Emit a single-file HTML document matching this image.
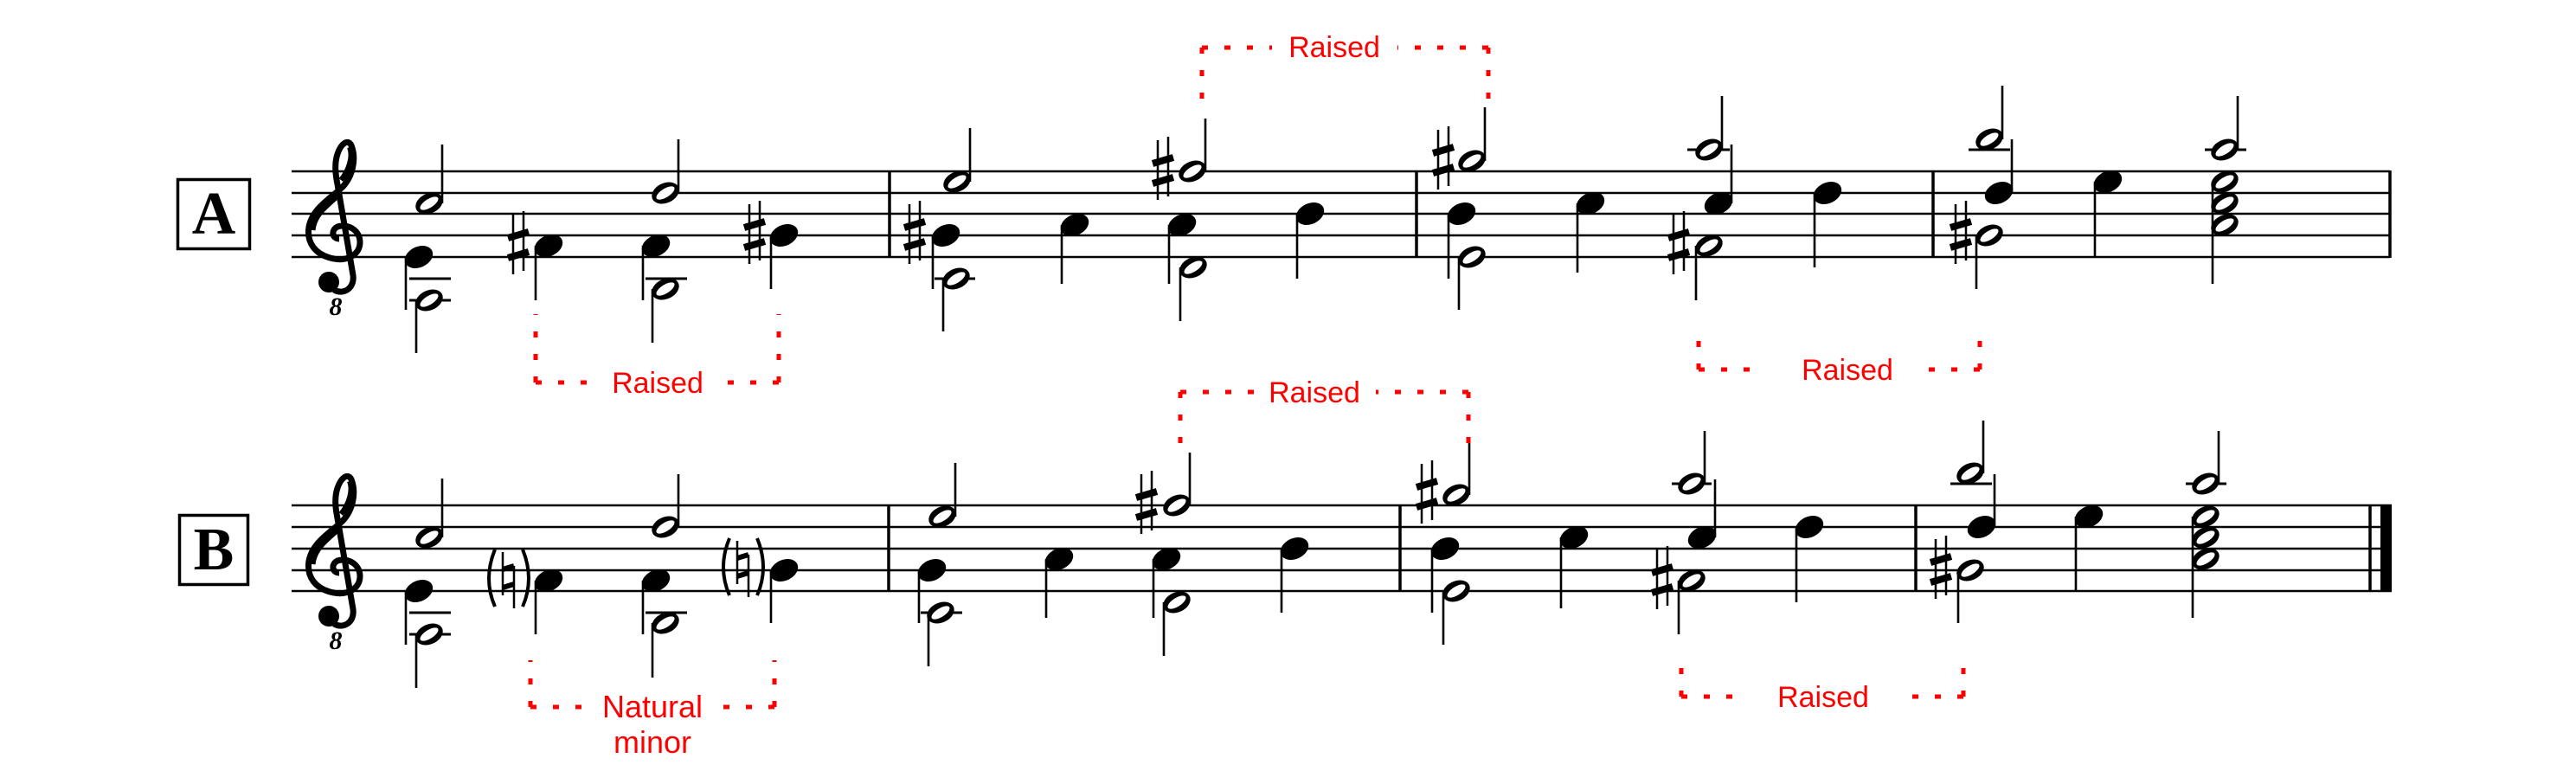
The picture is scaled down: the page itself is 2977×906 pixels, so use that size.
<!DOCTYPE html>
<html><head><meta charset="utf-8"><style>
html,body{margin:0;padding:0;background:#fff;}
svg{display:block;}
.st{stroke:#000;stroke-width:2.5;}
.sm{stroke:#000;stroke-width:2.6;}
.bl{stroke:#000;stroke-width:3.5;}
.lg{stroke:#000;stroke-width:3;}
.rd{stroke:#f00;stroke-width:5;stroke-dasharray:7 19;fill:none;}
.rt{fill:#f00;font-family:"Liberation Sans",sans-serif;font-size:34px;text-anchor:middle;}
</style></head><body>
<svg width="2977" height="906" viewBox="0 0 2977 906" xmlns="http://www.w3.org/2000/svg">
<defs>
<g id="q"><ellipse rx="17" ry="12" transform="rotate(-25)" fill="#000"/></g>
<g id="h"><ellipse rx="16.5" ry="11.5" transform="rotate(-25)" fill="#000"/><ellipse rx="12" ry="5" transform="rotate(-32)" fill="#fff"/></g>
<g id="sh"><line x1="-6" y1="-36" x2="-6" y2="33" stroke="#000" stroke-width="2.5"/><line x1="6" y1="-40" x2="6" y2="29" stroke="#000" stroke-width="2.5"/><line x1="-12" y1="-9" x2="12" y2="-16" stroke="#000" stroke-width="8"/><line x1="-12" y1="14" x2="12" y2="7" stroke="#000" stroke-width="8"/></g>
<g id="nat"><line x1="-7" y1="-31" x2="-7" y2="19" stroke="#000" stroke-width="2.5"/><line x1="6" y1="-15" x2="6" y2="34" stroke="#000" stroke-width="2.5"/><line x1="-7" y1="-11" x2="6" y2="-15" stroke="#000" stroke-width="6"/><line x1="-7" y1="10" x2="6" y2="6" stroke="#000" stroke-width="6"/><path d="M-16 -34 Q-30 0 -16 32" stroke="#000" stroke-width="4" fill="none"/><path d="M16 -34 Q30 0 16 32" stroke="#000" stroke-width="4" fill="none"/></g>
<g id="clef"><path d="M38 78 C30 78 28 68 36 64 C48 60 62 68 62 82 C62 97 46 104 32 101 C10 97 0 82 3 64 C7 43 27 32 42 18 C54 5 58 -15 52 -30 C48 -38 40 -32 36 -20 C32 -8 34 5 36 15 L54 120 C56 136 42 143 32 137" stroke="#000" stroke-width="7" fill="none"/><path d="M7 68 C9 48 26 38 38 26" stroke="#000" stroke-width="7" fill="none"/><path d="M40 10 C50 -2 54 -18 50 -28" stroke="#000" stroke-width="6" fill="none"/><circle cx="26" cy="128" r="12" fill="#000"/><text x="34" y="166" font-family="Liberation Serif,serif" font-weight="bold" font-style="italic" font-size="30" text-anchor="middle">8</text></g>
</defs>

<rect x="205.5" y="207.5" width="83" height="80" fill="none" stroke="#000" stroke-width="3.5"/>
<text x="247" y="270" font-family="Liberation Serif,serif" font-weight="bold" font-size="70" text-anchor="middle">A</text>
<rect x="207.5" y="595.5" width="79" height="80" fill="none" stroke="#000" stroke-width="3.5"/>
<text x="247" y="658" font-family="Liberation Serif,serif" font-weight="bold" font-size="70" text-anchor="middle">B</text>

<g class="st"><line x1="337" y1="198" x2="2762" y2="198"/><line x1="337" y1="223" x2="2762" y2="223"/><line x1="337" y1="247" x2="2762" y2="247"/><line x1="337" y1="272" x2="2762" y2="272"/><line x1="337" y1="297" x2="2762" y2="297"/></g>
<g class="bl"><line x1="1028" y1="198" x2="1028" y2="297"/><line x1="1637" y1="198" x2="1637" y2="297"/><line x1="2234" y1="198" x2="2234" y2="297"/><line x1="2762" y1="197" x2="2762" y2="298"/></g>
<use href="#clef" x="354" y="198"/>
<g class="lg">
<line x1="473" y1="322" x2="521" y2="322"/><line x1="473" y1="347" x2="521" y2="347"/>
<line x1="746" y1="322" x2="794" y2="322"/>
<line x1="1080" y1="322" x2="1127" y2="322"/>
<line x1="1950" y1="173" x2="1999" y2="173"/>
<line x1="2275" y1="173" x2="2323" y2="173"/>
<line x1="2548" y1="173" x2="2596" y2="173"/>
</g>
<g class="sm">
<line x1="511" y1="235" x2="511" y2="167"/><line x1="469" y1="297" x2="469" y2="358"/><line x1="481" y1="347" x2="481" y2="408"/>
<line x1="619" y1="284" x2="619" y2="347"/>
<line x1="784" y1="223" x2="784" y2="161"/><line x1="743" y1="284" x2="743" y2="347"/><line x1="754" y1="334" x2="754" y2="396"/>
<line x1="891" y1="272" x2="891" y2="334"/>
<line x1="1078" y1="272" x2="1078" y2="334"/><line x1="1090" y1="322" x2="1090" y2="383"/><line x1="1121" y1="210" x2="1121" y2="148"/>
<line x1="1227" y1="260" x2="1227" y2="328"/>
<line x1="1393" y1="198" x2="1393" y2="137"/><line x1="1351" y1="260" x2="1351" y2="328"/><line x1="1364" y1="309" x2="1364" y2="371"/>
<line x1="1499" y1="247" x2="1499" y2="322"/>
<line x1="1716" y1="186" x2="1716" y2="124"/><line x1="1674" y1="247" x2="1674" y2="322"/><line x1="1686" y1="297" x2="1686" y2="358"/>
<line x1="1823" y1="235" x2="1823" y2="315"/>
<line x1="1990" y1="173" x2="1990" y2="111"/><line x1="2001" y1="235" x2="2001" y2="167"/><line x1="1960" y1="284" x2="1960" y2="347"/>
<line x1="2097" y1="223" x2="2097" y2="309"/>
<line x1="2314" y1="161" x2="2314" y2="99"/><line x1="2325" y1="223" x2="2325" y2="161"/><line x1="2284" y1="272" x2="2284" y2="334"/>
<line x1="2421" y1="210" x2="2421" y2="297"/>
<line x1="2586" y1="173" x2="2586" y2="111"/><line x1="2557" y1="210" x2="2557" y2="328"/>
</g>
<use href="#h" x="496" y="235"/><use href="#q" x="484" y="297"/><use href="#h" x="496" y="347"/>
<use href="#sh" x="599" y="284"/><use href="#q" x="634" y="284"/>
<use href="#h" x="769" y="223"/><use href="#q" x="758" y="284"/><use href="#h" x="769" y="334"/>
<use href="#sh" x="872" y="272"/><use href="#q" x="906" y="272"/>
<use href="#sh" x="1057" y="272"/><use href="#q" x="1093" y="272"/><use href="#h" x="1105" y="322"/><use href="#h" x="1106" y="210"/>
<use href="#q" x="1242" y="260"/>
<use href="#sh" x="1344" y="198"/><use href="#h" x="1378" y="198"/><use href="#q" x="1366" y="260"/><use href="#h" x="1379" y="309"/>
<use href="#q" x="1514" y="247"/>
<use href="#sh" x="1668" y="186"/><use href="#h" x="1701" y="186"/><use href="#q" x="1689" y="247"/><use href="#h" x="1701" y="297"/>
<use href="#q" x="1838" y="235"/>
<use href="#h" x="1975" y="173"/><use href="#q" x="1986" y="235"/><use href="#sh" x="1940" y="284"/><use href="#h" x="1975" y="284"/>
<use href="#q" x="2112" y="223"/>
<use href="#h" x="2299" y="161"/><use href="#q" x="2310" y="223"/><use href="#sh" x="2266" y="272"/><use href="#h" x="2299" y="272"/>
<use href="#q" x="2436" y="210"/>
<use href="#h" x="2571" y="173"/><use href="#h" x="2571" y="210"/><use href="#h" x="2571" y="235"/><use href="#h" x="2571" y="260"/>

<g class="st"><line x1="337" y1="584" x2="2764" y2="584"/><line x1="337" y1="609" x2="2764" y2="609"/><line x1="337" y1="634" x2="2764" y2="634"/><line x1="337" y1="659" x2="2764" y2="659"/><line x1="337" y1="683" x2="2764" y2="683"/></g>
<g class="bl"><line x1="1027" y1="584" x2="1027" y2="683"/><line x1="1618" y1="584" x2="1618" y2="683"/><line x1="2214" y1="584" x2="2214" y2="683"/><line x1="2739" y1="584" x2="2739" y2="683"/></g>
<rect x="2751" y="583" width="13" height="101" fill="#000"/>
<use href="#clef" x="354" y="584"/>
<g class="lg">
<line x1="473" y1="708" x2="521" y2="708"/><line x1="473" y1="733" x2="521" y2="733"/>
<line x1="746" y1="708" x2="794" y2="708"/>
<line x1="1064" y1="708" x2="1112" y2="708"/>
<line x1="1932" y1="559" x2="1978" y2="559"/>
<line x1="2254" y1="559" x2="2302" y2="559"/>
<line x1="2526" y1="559" x2="2573" y2="559"/>
</g>
<g class="sm">
<line x1="511" y1="621" x2="511" y2="553"/><line x1="469" y1="683" x2="469" y2="745"/><line x1="481" y1="733" x2="481" y2="795"/>
<line x1="619" y1="671" x2="619" y2="733"/>
<line x1="784" y1="609" x2="784" y2="548"/><line x1="743" y1="671" x2="743" y2="733"/><line x1="754" y1="720" x2="754" y2="783"/>
<line x1="891" y1="659" x2="891" y2="720"/>
<line x1="1062" y1="659" x2="1062" y2="720"/><line x1="1073" y1="708" x2="1073" y2="770"/><line x1="1104" y1="597" x2="1104" y2="535"/>
<line x1="1209" y1="646" x2="1209" y2="714"/>
<line x1="1375" y1="584" x2="1375" y2="523"/><line x1="1333" y1="646" x2="1333" y2="714"/><line x1="1345" y1="696" x2="1345" y2="758"/>
<line x1="1481" y1="634" x2="1481" y2="708"/>
<line x1="1698" y1="572" x2="1698" y2="510"/><line x1="1655" y1="634" x2="1655" y2="708"/><line x1="1668" y1="683" x2="1668" y2="745"/>
<line x1="1804" y1="621" x2="1804" y2="703"/>
<line x1="1970" y1="559" x2="1970" y2="498"/><line x1="1982" y1="621" x2="1982" y2="554"/><line x1="1940" y1="671" x2="1940" y2="733"/>
<line x1="2076" y1="609" x2="2076" y2="696"/>
<line x1="2292" y1="547" x2="2292" y2="486"/><line x1="2305" y1="609" x2="2305" y2="548"/><line x1="2263" y1="659" x2="2263" y2="720"/>
<line x1="2399" y1="597" x2="2399" y2="683"/>
<line x1="2564" y1="559" x2="2564" y2="498"/><line x1="2534" y1="597" x2="2534" y2="714"/>
</g>
<use href="#h" x="496" y="621"/><use href="#q" x="484" y="683"/><use href="#h" x="496" y="733"/>
<use href="#nat" x="588" y="669"/><use href="#q" x="634" y="671"/>
<use href="#h" x="769" y="609"/><use href="#q" x="758" y="671"/><use href="#h" x="769" y="720"/>
<use href="#nat" x="859" y="656"/><use href="#q" x="906" y="659"/>
<use href="#q" x="1077" y="659"/><use href="#h" x="1087" y="708"/><use href="#h" x="1089" y="597"/>
<use href="#q" x="1224" y="646"/>
<use href="#sh" x="1325" y="584"/><use href="#h" x="1360" y="584"/><use href="#q" x="1348" y="646"/><use href="#h" x="1360" y="696"/>
<use href="#q" x="1496" y="634"/>
<use href="#sh" x="1649" y="572"/><use href="#h" x="1683" y="572"/><use href="#q" x="1670" y="634"/><use href="#h" x="1683" y="683"/>
<use href="#q" x="1819" y="621"/>
<use href="#h" x="1955" y="559"/><use href="#q" x="1967" y="621"/><use href="#sh" x="1921" y="671"/><use href="#h" x="1955" y="671"/>
<use href="#q" x="2091" y="609"/>
<use href="#h" x="2277" y="547"/><use href="#q" x="2290" y="609"/><use href="#sh" x="2243" y="659"/><use href="#h" x="2277" y="659"/>
<use href="#q" x="2414" y="597"/>
<use href="#h" x="2549" y="559"/><use href="#h" x="2549" y="597"/><use href="#h" x="2549" y="621"/><use href="#h" x="2549" y="646"/>

<g class="rd">
<path d="M619 442 L619 363"/><path d="M900 442 L900 363"/><path d="M619 442 L690 442"/><path d="M900 442 L832 442"/>
<path d="M1389 55 L1389 123"/><path d="M1720 55 L1720 123"/><path d="M1389 55 L1470 55"/><path d="M1720 55 L1615 55"/>
<path d="M1963 427 L1963 388"/><path d="M2288 427 L2288 388"/><path d="M1963 427 L2025 427"/><path d="M2288 427 L2225 427"/>
<path d="M613 817 L613 763"/><path d="M895 817 L895 763"/><path d="M613 817 L680 817"/><path d="M895 817 L830 817"/>
<path d="M1364 453 L1364 520"/><path d="M1697 453 L1697 520"/><path d="M1364 453 L1450 453"/><path d="M1697 453 L1590 453"/>
<path d="M1943 805 L1943 767"/><path d="M2269 805 L2269 767"/><path d="M1943 805 L2005 805"/><path d="M2269 805 L2205 805"/>
</g>
<text class="rt" x="760" y="454">Raised</text>
<text class="rt" x="1542" y="66">Raised</text>
<text class="rt" x="2135" y="439">Raised</text>
<text class="rt" x="754" y="829" style="font-size:36px">Natural</text>
<text class="rt" x="754" y="870" style="font-size:36px">minor</text>
<text class="rt" x="1519" y="465">Raised</text>
<text class="rt" x="2107" y="817">Raised</text>
</svg>
</body></html>
